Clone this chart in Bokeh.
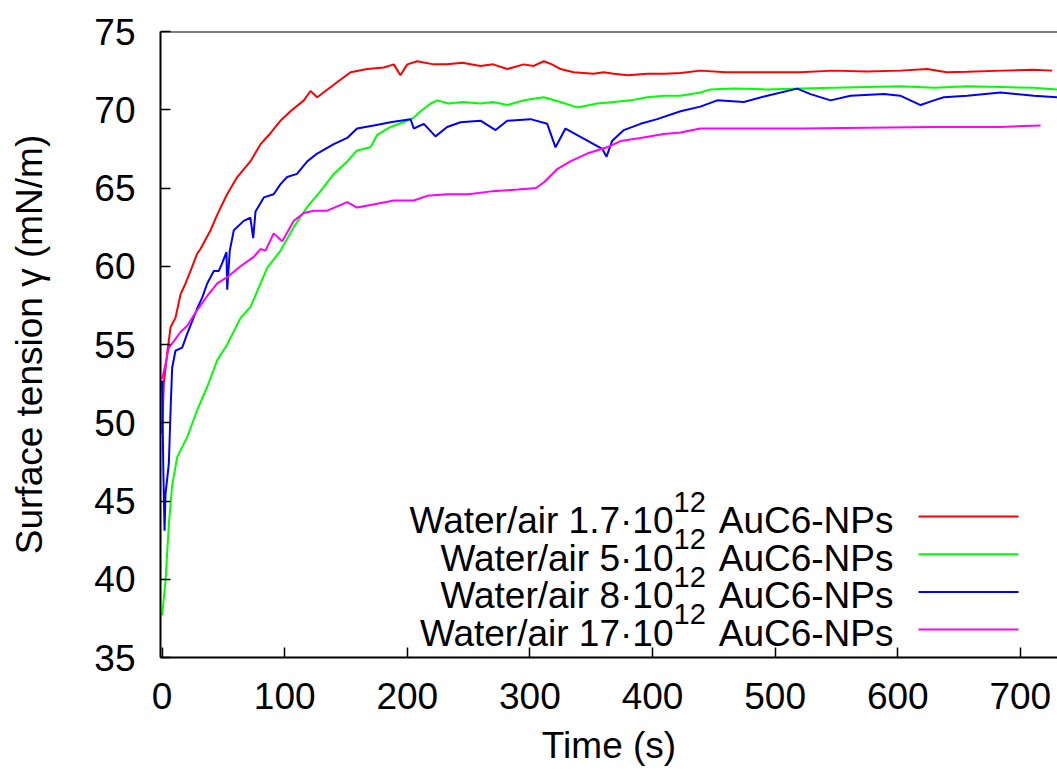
from bokeh.plotting import figure
from bokeh.models import Range1d, Span, FixedTicker
from bokeh.core.properties import value
from bokeh.embed import file_html
from bokeh.resources import INLINE

# ---------------- data ----------------
red_t = [0, 1.4, 4.1, 6.9, 10.9, 15, 19.1, 23.2, 28.6, 31.3,
         39.5, 45, 53, 61.3, 72, 80.3, 88.4, 96.6, 104.7, 115.6,
         121, 126.5, 140, 153.7, 167.3, 180.8, 189, 194.4, 200, 208,
         221.6, 232.5, 245, 259.7, 270, 281.5, 295, 303, 311.3, 318,
         325, 335.8, 352, 360, 368.4, 380, 395.7, 410, 422.8, 439,
         460, 493.6, 520, 547.6, 575, 602, 624, 640, 656.7, 685,
         710.8, 726]
red_y = [49.3, 52.5, 54.4, 56.1, 56.7, 58.2, 58.9, 59.7, 60.8, 61.1,
         62.3, 63.3, 64.6, 65.7, 66.7, 67.8, 68.5, 69.3, 69.9, 70.6,
         71.2, 70.8, 71.6, 72.4, 72.6, 72.7, 72.9, 72.2, 72.9, 73.1,
         72.9, 72.9, 73.0, 72.8, 72.9, 72.6, 72.9, 72.8, 73.1, 72.9,
         72.6, 72.4, 72.3, 72.4, 72.3, 72.2, 72.3, 72.3, 72.35, 72.5,
         72.4, 72.4, 72.4, 72.5, 72.45, 72.5, 72.6, 72.4, 72.43, 72.5,
         72.55, 72.5]

green_t = [0, 2.8, 5.5, 8.2, 12.3, 20.5, 28.6, 36.8, 45, 53.1,
           64, 72.1, 80.3, 85.7, 96.6, 107.4, 118.4, 129.2, 140, 151,
           159, 170, 175.5, 186.3, 200, 205.3, 210.8, 219, 224.4, 233.8,
           245, 259.7, 270, 281.5, 295, 311.3, 325, 338.6, 354.9, 368.4,
           382, 395.7, 409.2, 422.8, 439, 447.3, 466.3, 493, 520.7, 548,
           575, 602, 630, 656.7, 685, 711, 730]
green_y = [37.7, 39.9, 43.5, 46.0, 47.8, 49.1, 50.8, 52.3, 54.0, 55.0,
           56.7, 57.4, 58.9, 59.9, 61.0, 62.5, 63.8, 64.8, 65.9, 66.7,
           67.4, 67.6, 68.4, 68.9, 69.3, 69.5, 69.9, 70.4, 70.6, 70.4,
           70.5, 70.4, 70.5, 70.3, 70.6, 70.8, 70.5, 70.15, 70.4, 70.5,
           70.6, 70.8, 70.9, 70.9, 71.1, 71.3, 71.35, 71.3, 71.35, 71.4,
           71.45, 71.5, 71.4, 71.5, 71.45, 71.4, 71.3]

blue_t = [0, 1, 2, 2.8, 4, 5.5, 7, 8.2, 10.9, 16.4,
          20.5, 24.6, 28.6, 32.7, 36.8, 42.2, 46.3, 49, 52.5, 53.1,
          55.2, 58.5, 66.6, 72, 74.3, 76.2, 83, 91, 96.6, 102,
          110, 118.4, 126.5, 140, 151, 159, 172.7, 186.3, 194.4, 202.6,
          205.3, 213.5, 223, 232.5, 243.4, 259.7, 272, 281.5, 300.5, 314.1,
          320.9, 329, 359, 362.5, 367, 376.6, 390.2, 403.8, 422.8, 439,
          452.8, 474.5, 493.6, 518, 528.9, 545.2, 561.5, 588.7, 602, 618.6,
          629.5, 637.6, 656.7, 683.9, 711, 730]
blue_y = [52.7, 47.0, 43.1, 45.5, 46.3, 47.4, 51.0, 53.5, 54.6, 54.8,
          55.7, 56.5, 57.3, 58.0, 58.9, 59.7, 59.7, 60.2, 60.9, 58.5,
          61.0, 62.3, 62.9, 63.1, 61.8, 63.5, 64.4, 64.6, 65.25, 65.7,
          65.9, 66.7, 67.2, 67.8, 68.2, 68.8, 69.0, 69.2, 69.3, 69.4,
          68.8, 69.1, 68.3, 68.9, 69.2, 69.3, 68.7, 69.3, 69.4, 69.1,
          67.6, 68.8, 67.5, 67.0, 68.0, 68.7, 69.1, 69.4, 69.9, 70.2,
          70.6, 70.5, 70.9, 71.35, 71.0, 70.6, 70.9, 71.0, 70.9, 70.3,
          70.6, 70.8, 70.9, 71.1, 70.9, 70.8]

magenta_t = [0, 2.8, 5.5, 9.5, 15, 20.5, 28.6, 36.8, 45, 53.1,
             64, 74.8, 80.3, 84.3, 91, 98, 107.4, 115.6, 123.7, 134.7,
             151, 159, 175.5, 189, 205.3, 216.2, 232.5, 250, 270, 290,
             305, 312, 322.2, 333, 346.7, 363, 373.9, 390.2, 409.2, 422.8,
             439, 466, 520.7, 575, 629.5, 683.9, 716.5]
magenta_y = [52.8, 53.75, 54.8, 55.2, 55.8, 56.2, 57.2, 58.1, 58.9, 59.3,
             60.0, 60.6, 61.1, 61.0, 62.1, 61.6, 62.9, 63.4, 63.55, 63.55,
             64.1, 63.75, 64.0, 64.2, 64.2, 64.5, 64.6, 64.6, 64.8, 64.9,
             65.0, 65.4, 66.2, 66.7, 67.2, 67.6, 68.0, 68.2, 68.45, 68.55,
             68.8, 68.8, 68.8, 68.85, 68.9, 68.9, 69.0]

series_main = ["Water/air 1.7\u00b710", "Water/air 5\u00b710",
               "Water/air 8\u00b710", "Water/air 17\u00b710"]
series_sup = ["12", "12", "12", "12"]
series_tail = ["AuC6-NPs", "AuC6-NPs", "AuC6-NPs", "AuC6-NPs"]
series_colors = ["#ff0000", "#00ff00", "#0000ff", "#ff00ff"]

x_ticks = [0, 100, 200, 300, 400, 500, 600, 700]
y_ticks = [35, 40, 45, 50, 55, 60, 65, 70, 75]
x_title = "Time (s)"
y_title = "Surface tension \u03b3 (mN/m)"

# ---------------- layout ----------------
W, H = 1057, 769
FL, FR, FT, FB = 160, 1057, 31, 657
XMIN, XMAX = -1.3, 730.3
YMIN, YMAX = 35, 75
FONT = "Liberation Sans"
BASE_FIX = 11  # empirical correction for the svg alphabetic baseline


def px2x(px):
    return XMIN + (px - FL) * (XMAX - XMIN) / (FR - FL)


def py2y(py):
    return YMAX - (py - FT) * (YMAX - YMIN) / (FB - FT)


p = figure(width=W, height=H, output_backend="svg", toolbar_location=None,
           x_range=Range1d(XMIN, XMAX), y_range=Range1d(YMIN, YMAX),
           min_border_left=FL, min_border_right=0, min_border_top=FT,
           min_border_bottom=H - FB)
p.outline_line_color = None
p.grid.visible = False
p.background_fill_color = "white"
p.border_fill_color = "white"

for ax in (p.xaxis[0], p.yaxis[0]):
    ax.axis_line_width = 2
    ax.axis_line_color = "black"
    ax.major_tick_in = 10
    ax.major_tick_out = 0
    ax.major_tick_line_width = 1.5
    ax.minor_tick_line_color = None
    ax.major_label_text_font = FONT
    ax.major_label_text_font_size = "37px"
    ax.major_label_text_color = "black"
    ax.axis_label_text_font = FONT
    ax.axis_label_text_font_size = "37px"
    ax.axis_label_text_font_style = "normal"
    ax.axis_label_text_color = "black"

p.xaxis[0].ticker = FixedTicker(ticks=x_ticks)
p.yaxis[0].ticker = FixedTicker(ticks=y_ticks)
p.xaxis[0].axis_label = x_title
p.yaxis[0].axis_label = y_title
p.xaxis[0].major_label_standoff = 25
p.xaxis[0].axis_label_standoff = 13
p.yaxis[0].major_label_standoff = 25
p.yaxis[0].axis_label_standoff = 41

# top border
p.add_layout(Span(location=YMAX, dimension="width", line_color="black", line_width=2))

# data curves
for t, yv, c in [(red_t, red_y, series_colors[0]), (green_t, green_y, series_colors[1]),
                 (blue_t, blue_y, series_colors[2]), (magenta_t, magenta_y, series_colors[3])]:
    assert len(t) == len(yv)
    p.line(t, yv, line_color=c, line_width=2)

# legend (gnuplot style: text right-aligned, sample line on the right)
for i in range(4):
    base = 531 + 37.5 * i - BASE_FIX
    lny = 516 + 37.7 * i
    p.text(x=[px2x(673)], y=[py2y(base)], text=[series_main[i]],
           text_font=value(FONT), text_font_size=value("37px"),
           text_align="right", text_baseline="alphabetic", text_color="black")
    p.text(x=[px2x(673)], y=[py2y(base - 19)], text=[series_sup[i]],
           text_font=value(FONT), text_font_size=value("29px"),
           text_align="left", text_baseline="alphabetic", text_color="black")
    p.text(x=[px2x(893)], y=[py2y(base)], text=[series_tail[i]],
           text_font=value(FONT), text_font_size=value("37px"),
           text_align="right", text_baseline="alphabetic", text_color="black")
    p.line([px2x(918), px2x(1018)], [py2y(lny), py2y(lny)],
           line_color=series_colors[i], line_width=2)

open("out.html", "w").write(file_html(p, INLINE))
